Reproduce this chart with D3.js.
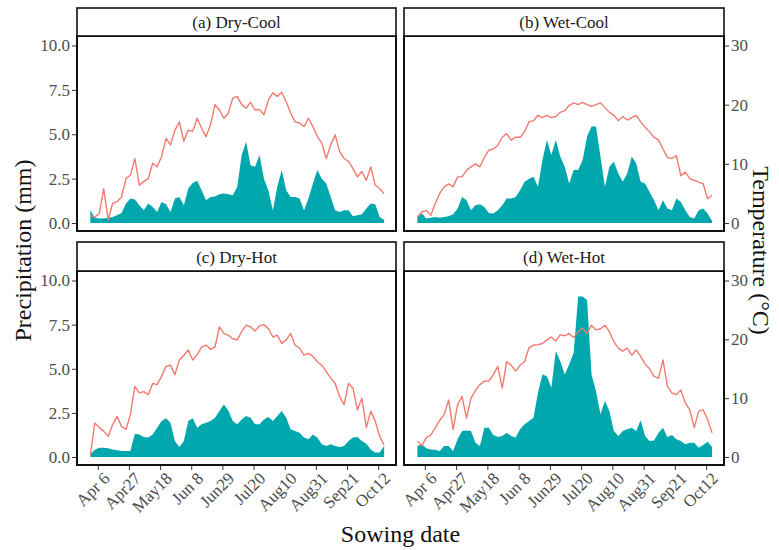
<!DOCTYPE html>
<html>
<head>
<meta charset="utf-8">
<script src="https://cdn.jsdelivr.net/npm/d3@7"></script>
<style>
  body { margin: 0; background: #fff; }
  text { font-family: "Liberation Serif", "Times New Roman", serif; }
</style>
</head>
<body>
<div id="chart"></div>
<script>
// daily series sampled every 3 days, starting Apr 1
const startDate = new Date(2021, 3, 1);
const stepDays = 3;

const panelTitles = ["(a) Dry-Cool", "(b) Wet-Cool", "(c) Dry-Hot", "(d) Wet-Hot"];

// precipitation (mm)
const precA = [0.72,0.30,0.25,0.25,0.30,0.34,0.43,0.57,1.10,1.38,1.32,1.00,0.72,1.10,0.90,0.62,1.19,1.06,0.62,1.38,1.47,1.00,1.94,2.26,2.38,1.85,1.28,1.47,1.50,1.62,1.66,1.62,1.57,2.04,3.83,4.58,3.26,3.17,3.83,2.50,1.85,0.72,2.04,2.98,1.85,1.47,1.47,1.38,0.72,1.38,2.23,2.98,2.50,2.23,1.47,0.72,0.62,0.72,0.72,0.38,0.43,0.49,0.81,1.10,1.06,0.34,0.19];
const precB = [0.34,0.53,0.25,0.30,0.34,0.30,0.34,0.38,0.49,0.81,1.47,1.28,0.72,1.00,1.06,0.90,0.57,0.53,0.72,1.00,1.38,1.38,1.47,1.85,2.32,2.50,2.60,2.04,3.55,4.68,3.83,4.68,3.74,3.17,2.23,2.98,2.98,3.55,4.87,5.43,5.43,3.74,2.04,3.17,3.45,2.79,2.32,2.79,3.74,3.36,2.32,2.23,1.75,1.28,0.72,1.28,0.81,0.72,1.38,1.19,0.72,0.34,0.25,0.72,0.81,0.53,0.11];
const precC = [0.15,0.41,0.53,0.53,0.49,0.43,0.38,0.34,0.34,0.34,1.32,1.28,1.13,1.10,1.28,1.66,2.04,2.19,1.94,0.90,0.57,0.90,2.04,2.19,1.66,1.85,1.94,2.04,2.23,2.60,2.98,2.64,2.04,1.85,2.13,2.32,2.23,1.85,1.85,2.13,2.26,2.04,2.32,2.60,2.23,1.57,1.47,1.38,1.10,1.00,1.28,1.10,0.72,0.62,0.72,0.62,0.57,0.62,0.90,1.10,1.13,0.90,0.75,0.43,0.25,0.25,0.62];
const precD = [0.62,0.72,0.49,0.43,0.41,0.34,0.62,0.62,0.34,1.00,1.47,1.50,1.47,0.81,0.62,1.66,1.66,1.25,1.13,1.19,1.38,1.19,1.10,1.57,1.85,2.04,2.23,3.64,4.68,4.58,3.92,6.00,5.43,4.68,5.25,5.90,9.10,9.10,8.90,4.68,3.74,2.42,3.17,2.60,1.47,1.19,1.47,1.57,1.66,1.47,2.08,1.19,0.90,0.94,1.38,1.66,1.13,1.25,1.00,0.90,0.72,0.81,0.81,0.53,0.68,0.87,0.57];

// temperature (°C)
const tempA = [1.3,1.0,1.6,5.8,0.5,3.3,3.6,4.4,7.5,8.1,10.9,6.4,7.0,7.5,10.1,9.5,11.2,14.3,13.2,15.7,17.1,13.8,15.7,15.5,17.7,16.0,14.6,16.6,20.0,19.1,17.7,18.6,21.1,21.4,20.0,19.4,20.4,19.1,19.2,18.3,20.8,22.0,21.4,22.1,20.5,18.6,17.1,16.9,16.3,17.7,16.3,14.6,13.5,10.9,13.2,14.9,12.1,10.9,10.4,9.2,7.8,8.7,7.2,9.5,6.4,5.8,5.0];
const tempB = [1.0,1.9,2.1,1.3,3.3,5.0,6.1,6.6,6.1,7.8,7.8,8.9,9.5,10.0,9.5,11.1,12.3,12.5,13.1,14.5,15.1,14.0,14.5,14.5,15.4,17.1,17.3,18.2,17.8,18.2,17.8,18.0,18.7,19.0,19.9,20.3,20.0,20.4,20.0,19.7,20.0,20.3,19.5,18.7,18.2,17.3,18.0,17.4,17.8,18.2,17.1,16.2,15.4,14.5,14.0,12.5,11.1,10.9,11.4,8.0,8.6,7.5,7.2,6.9,6.6,4.1,4.7];
const tempC = [0.3,5.8,5.0,4.4,3.5,5.5,6.9,5.2,4.7,7.2,12.0,10.9,11.1,10.6,12.5,12.3,13.7,15.4,15.6,14.0,16.5,17.3,18.2,16.5,17.4,18.7,19.0,18.3,18.7,22.1,21.0,20.7,20.1,19.9,21.3,22.4,22.1,21.4,22.3,22.5,21.8,20.4,20.7,19.3,19.9,21.0,19.0,18.5,17.3,17.6,17.1,16.2,15.6,14.5,13.4,12.5,10.3,8.9,12.5,11.7,8.0,10.0,5.0,7.8,6.1,3.5,2.0];
const tempD = [2.7,1.9,3.3,3.7,5.0,6.2,7.2,9.7,4.7,8.9,10.3,6.6,10.0,11.3,12.3,12.9,12.9,14.0,15.4,11.7,16.2,15.6,14.6,15.6,16.2,18.6,19.0,19.1,19.3,19.9,20.4,19.7,20.8,20.6,21.0,20.3,21.3,21.9,21.0,22.4,21.6,21.8,22.4,21.3,19.6,18.5,18.0,18.5,17.3,18.2,17.1,15.8,15.0,13.7,13.4,16.5,12.0,10.9,10.6,11.4,9.2,8.0,5.0,7.8,8.0,6.4,4.1];

const precTicks = [0, 2.5, 5, 7.5, 10];
const tempTicks = [0, 10, 20, 30];
const tempFactor = 3; // 10 mm on the left axis = 30 °C on the right
const xTickDates = ["2021-04-06","2021-04-27","2021-05-18","2021-06-08","2021-06-29","2021-07-20","2021-08-10","2021-08-31","2021-09-21","2021-10-12"];

const precAll = [precA, precB, precC, precD];
const tempAll = [tempA, tempB, tempC, tempD];

const width = 779, height = 550;
const cols = [{ x0: 77, x1: 396 }, { x0: 404, x1: 724 }];
const rows = [{ s0: 8, p0: 36, p1: 231 }, { s0: 242, p0: 271, p1: 465 }];

const teal = "#00A8AE";
const salmon = "#F27A70";
const grey = "#4d4d4d";
const tickFont = 17;

const svg = d3.select("#chart").append("svg")
    .attr("width", width)
    .attr("height", height);

const parse = d3.timeParse("%Y-%m-%d");
const tickDates = xTickDates.map(parse);

panelTitles.forEach((title, k) => {
    let col = cols[k % 2];
    let row = rows[Math.floor(k / 2)];

    let data = precAll[k].map((p, i) => ({
        date: d3.timeDay.offset(startDate, i * stepDays),
        p: p,
        t: tempAll[k][i]
    }));

    let x = d3.scaleTime()
        .domain([new Date(2021, 2, 23), new Date(2021, 9, 24)])
        .range([col.x0, col.x1]);

    // 0 sits 8px above the panel bottom, 10 sits 9.5px below the top
    let y0px = row.p1 - 8, y10px = row.p0 + 9.5;
    let perUnit = (y0px - y10px) / 10;
    let y = d3.scaleLinear()
        .domain([-(row.p1 - y0px) / perUnit, 10 + (y10px - row.p0) / perUnit])
        .range([row.p1, row.p0]);

    let g = svg.append("g");

    g.append("path")
        .datum(data)
        .attr("fill", teal)
        .attr("d", d3.area()
            .x(d => x(d.date))
            .y0(y(0))
            .y1(d => y(d.p)));

    g.append("path")
        .datum(data)
        .attr("fill", "none")
        .attr("stroke", salmon)
        .attr("stroke-width", 1.4)
        .attr("stroke-linejoin", "round")
        .attr("d", d3.line()
            .x(d => x(d.date))
            .y(d => y(d.t / tempFactor)));

    // panel border
    g.append("rect")
        .attr("x", col.x0).attr("y", row.p0)
        .attr("width", col.x1 - col.x0).attr("height", row.p1 - row.p0)
        .attr("fill", "none")
        .attr("stroke", "#111")
        .attr("stroke-width", 2);

    // strip
    g.append("rect")
        .attr("x", col.x0).attr("y", row.s0)
        .attr("width", col.x1 - col.x0).attr("height", row.p0 - row.s0)
        .attr("fill", "#fff")
        .attr("stroke", "#111")
        .attr("stroke-width", 1.6);
    g.append("text")
        .attr("x", (col.x0 + col.x1) / 2)
        .attr("y", (row.s0 + row.p0) / 2 + 6)
        .attr("text-anchor", "middle")
        .attr("font-size", 17)
        .attr("fill", "#1a1a1a")
        .text(title);

    if (k % 2 === 0) {
        let ax = g.append("g")
            .attr("transform", `translate(${col.x0 - 1},0)`)
            .call(d3.axisLeft(y).tickValues(precTicks).tickFormat(d3.format(".1f")).tickSize(4).tickPadding(2));
        ax.select(".domain").remove();
        ax.selectAll("line").attr("stroke", "#333");
        ax.selectAll("text").attr("font-size", tickFont).attr("fill", grey)
            .style("font-family", "'Liberation Serif', serif");
    } else {
        let yT = d3.scaleLinear()
            .domain(y.domain().map(v => v * tempFactor))
            .range(y.range());
        let ax = g.append("g")
            .attr("transform", `translate(${col.x1 + 1},0)`)
            .call(d3.axisRight(yT).tickValues(tempTicks).tickSize(4).tickPadding(2));
        ax.select(".domain").remove();
        ax.selectAll("line").attr("stroke", "#333");
        ax.selectAll("text").attr("font-size", tickFont).attr("fill", grey)
            .style("font-family", "'Liberation Serif', serif");
    }

    if (k >= 2) {
        let ax = g.append("g")
            .attr("transform", `translate(0,${row.p1 + 1})`)
            .call(d3.axisBottom(x).tickValues(tickDates).tickFormat(d3.timeFormat("%b%e")).tickSize(4).tickPadding(2));
        ax.select(".domain").remove();
        ax.selectAll("line").attr("stroke", "#333");
        ax.selectAll("text")
            .attr("font-size", tickFont).attr("fill", grey)
            .style("font-family", "'Liberation Serif', serif")
            .attr("text-anchor", "end")
            .attr("dy", "0.35em")
            .attr("transform", "translate(4,5) rotate(-45)");
    }
});

// axis titles
svg.append("text")
    .attr("transform", `translate(31,${(rows[0].p0 + rows[1].p1) / 2}) rotate(-90)`)
    .attr("text-anchor", "middle")
    .attr("font-size", 24)
    .attr("fill", "#111")
    .text("Precipitation (mm)");

svg.append("text")
    .attr("transform", `translate(753,${(rows[0].p0 + rows[1].p1) / 2}) rotate(90)`)
    .attr("text-anchor", "middle")
    .attr("font-size", 24)
    .attr("fill", "#111")
    .text("Temperature (°C)");

svg.append("text")
    .attr("x", (cols[0].x0 + cols[1].x1) / 2)
    .attr("y", 542)
    .attr("text-anchor", "middle")
    .attr("font-size", 24)
    .attr("fill", "#111")
    .text("Sowing date");
</script>
</body>
</html>
